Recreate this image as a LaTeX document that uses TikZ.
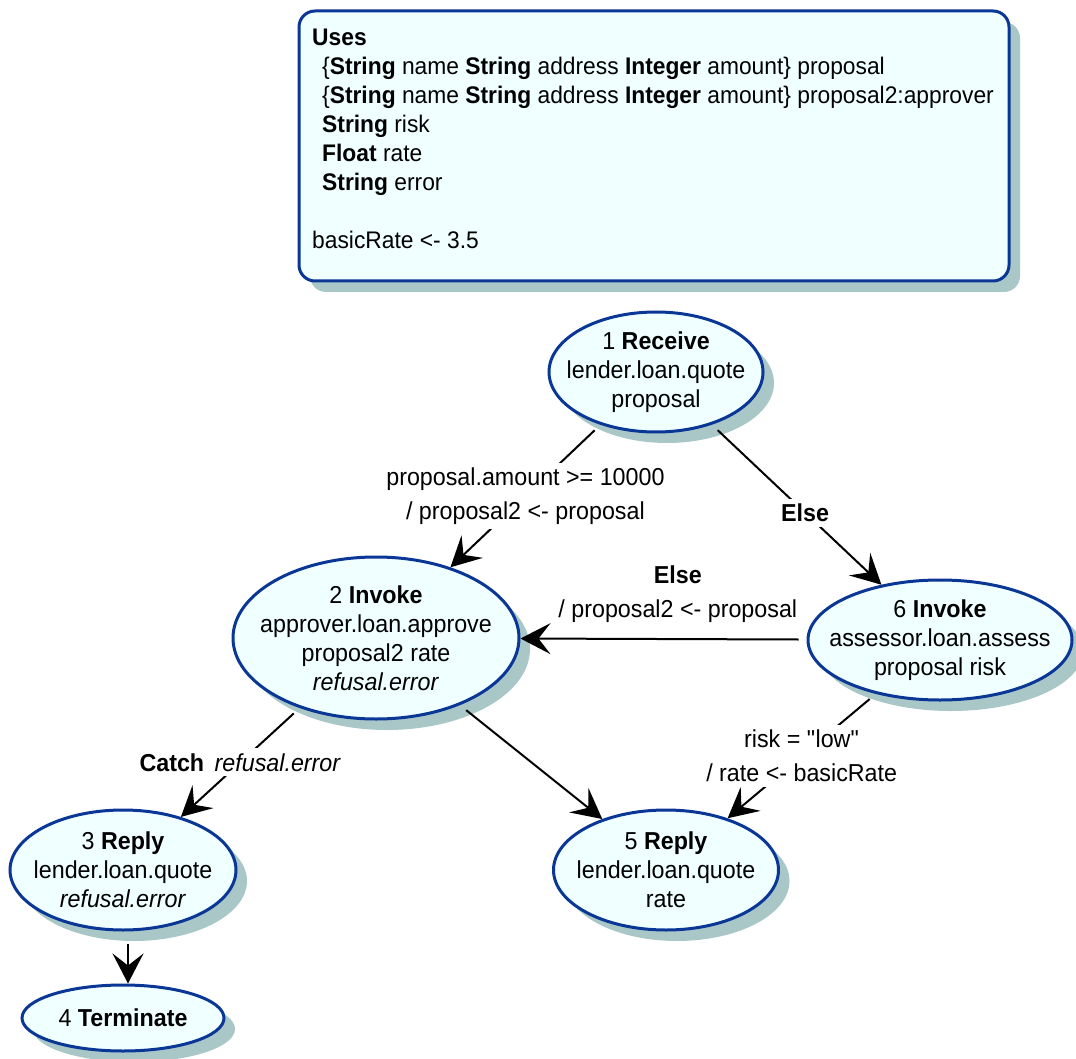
\documentclass[tikz,border=0pt]{standalone}
\usepackage{fontspec}
\setmainfont[FakeStretch=0.95]{Liberation Sans}
\usepackage{tikz}
\usetikzlibrary{shapes.geometric,shadows,arrows.meta}
\definecolor{boxfill}{HTML}{F0FFFF}
\definecolor{boxline}{HTML}{0A3796}
\definecolor{shade}{HTML}{A9C7C7}

\begin{document}
\begin{tikzpicture}[x=1pt,y=-1pt,every node/.style={font=\fontsize{24.5}{29}\selectfont},
  state/.style={ellipse,draw=boxline,line width=3pt,fill=boxfill,inner xsep=-30pt,inner ysep=0pt,align=center,
    drop shadow={shadow xshift=11pt,shadow yshift=-11pt,fill=shade,opacity=1}},
  trans/.style={-{Stealth[length=30pt,width=31pt,inset=12pt]},line width=2pt,shorten <=8pt},
  guard/.style={fill=white,inner sep=5pt,align=center,font=\fontsize{24.5}{34}\selectfont}]
\useasboundingbox (0,0) rectangle (1076,1059);
% declarations box
\draw[draw=boxline,line width=3pt,fill=boxfill,rounded corners=16pt,
  drop shadow={shadow xshift=11pt,shadow yshift=-11pt,fill=shade,opacity=1}] (299,11) rectangle (1009,281);
\node[anchor=north west,align=left,inner sep=0pt,font=\fontsize{24}{29}\selectfont] (uses) at (312,29) {\textbf{Uses}\\
\hspace*{10pt}\{\textbf{String} name \textbf{String} address \textbf{Integer} amount\} proposal\\
\hspace*{10pt}\{\textbf{String} name \textbf{String} address \textbf{Integer} amount\} proposal2:approver\\
\hspace*{10pt}\textbf{String} risk\\
\hspace*{10pt}\textbf{Float} rate\\
\hspace*{10pt}\textbf{String} error\\[29pt]
basicRate <- 3.5};
% states
\node[state,minimum width=214pt,minimum height=120pt] (s1) at (656,372) {1 \textbf{Receive}\\lender.loan.quote\\proposal};
\node[state,minimum width=286pt,minimum height=162pt] (s2) at (376,638) {2 \textbf{Invoke}\\approver.loan.approve\\proposal2 rate\\\textit{refusal.error}};
\node[state,minimum width=264pt,minimum height=120pt] (s6) at (940,640) {6 \textbf{Invoke}\\assessor.loan.assess\\proposal risk};
\node[state,minimum width=226pt,minimum height=120pt] (s3) at (123,870) {3 \textbf{Reply}\\lender.loan.quote\\\textit{refusal.error}};
\node[state,minimum width=225pt,minimum height=120pt] (s5) at (666,870) {5 \textbf{Reply}\\lender.loan.quote\\rate};
\node[state,minimum width=202pt,minimum height=66pt] (s4) at (123,1018) {4 \textbf{Terminate}};
% transitions
\draw[trans] (s1) -- node[guard] {proposal.amount >= 10000\\/ proposal2 <- proposal} (s2);
\draw[trans] (s1) -- node[guard,pos=0.55] {\textbf{Else}} (s6);
\draw[trans] (s6) -- node[guard,fill=none,above=10pt,pos=0.45] {\textbf{Else}\\/ proposal2 <- proposal} (s2);
\draw[trans] (s6) -- node[guard] {risk = \textquotedbl low\textquotedbl\\/ rate <- basicRate} (s5);
\draw[trans] (s2) -- node[guard] {\textbf{Catch}\, \textit{refusal.error}} (s3);
\draw[trans] (s2) -- (s5);
\draw[trans,shorten <=12pt] ([xshift=5pt]s3.south) -- ([xshift=5pt]s4.north);
\end{tikzpicture}
\end{document}
